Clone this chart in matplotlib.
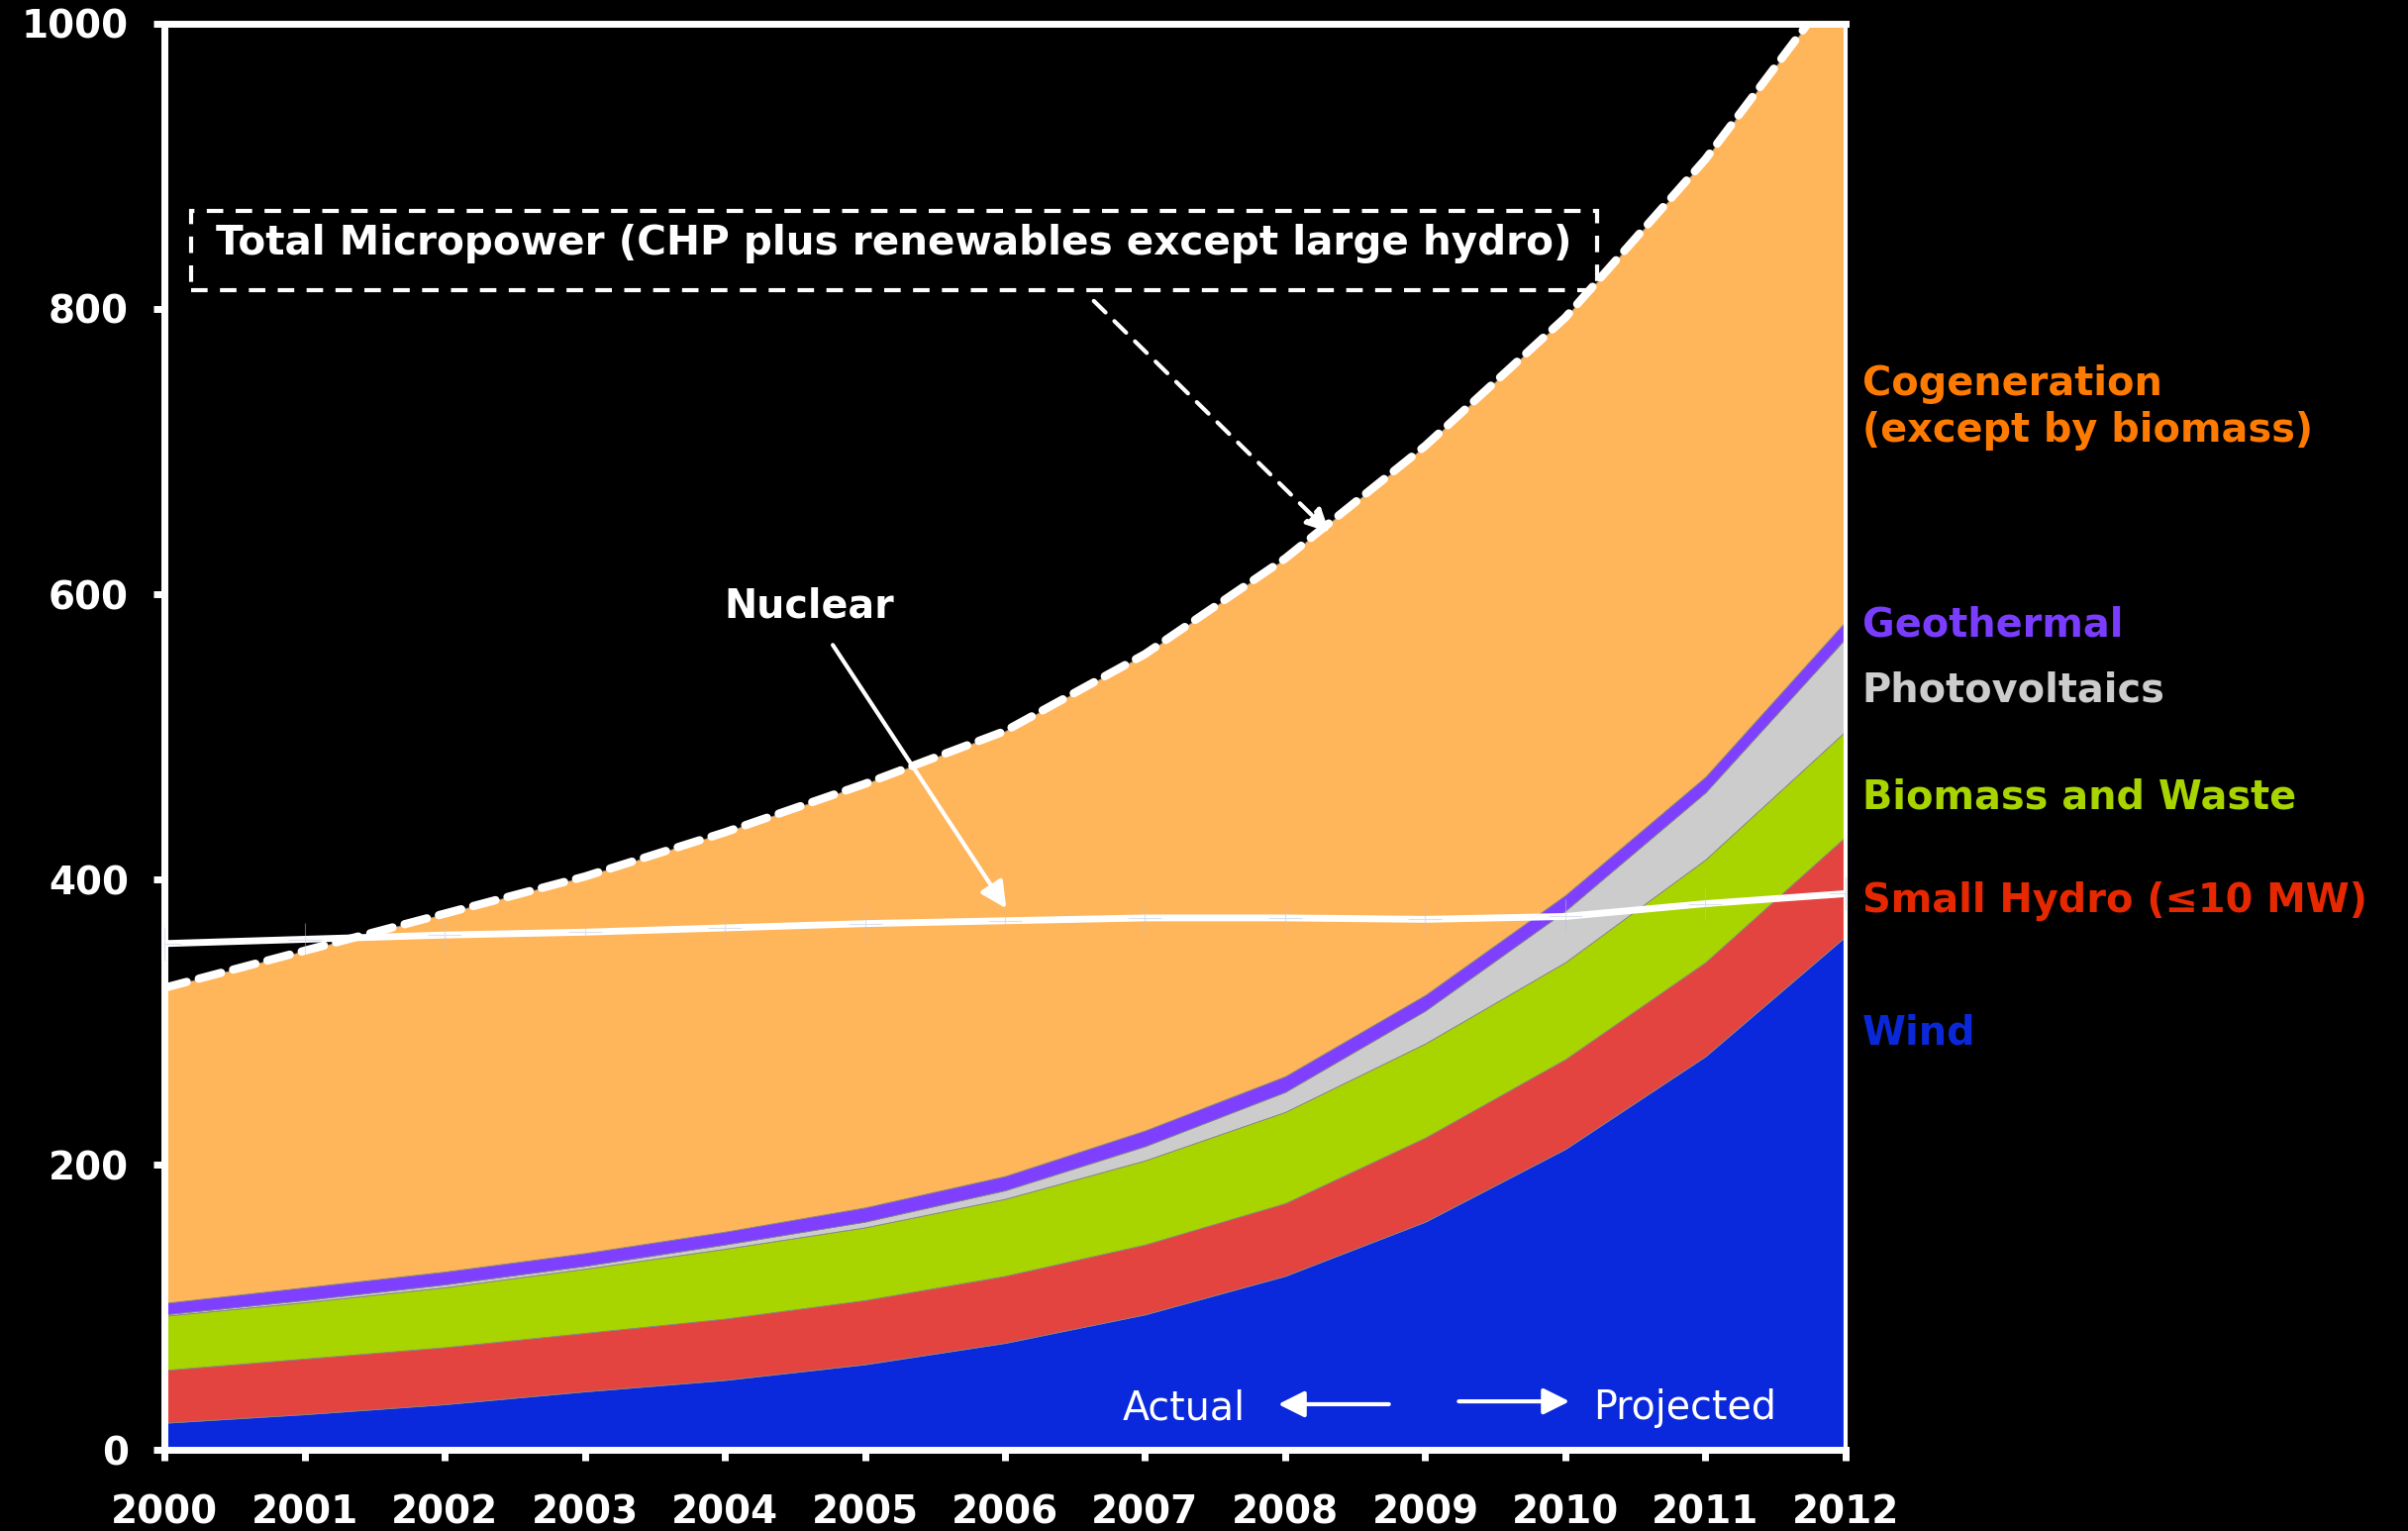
import numpy as np
import matplotlib
matplotlib.use('Agg')
import matplotlib.pyplot as plt
from matplotlib.patches import Rectangle

# capacidad instalada por fuente (GW), 2000-2010 real, 2011-2012 proyectado
years = np.arange(2000, 2013)
wind = [19, 25, 32, 41, 49, 60, 75, 95, 122, 160, 211, 276, 360]
small_hydro = [37, 39, 40, 41, 43, 45, 47, 49, 51, 59, 63, 66, 70]
biomass = [38, 39.5, 42, 45, 49, 51, 54, 59, 64, 66, 68, 72, 74]
pv = [1, 1.5, 2, 2, 3, 4, 6, 10, 14, 23, 36, 47, 65]
geothermal = [8, 9, 9, 9, 9, 10, 10, 11, 11, 11, 11, 11, 12]
cogen = [221, 236, 251, 264, 280, 297, 312, 334, 363, 385, 405, 433, 454]
nuclear = [355, 358, 361, 363, 366, 369, 371, 373, 373, 372, 374, 383, 390]

series = [wind, small_hydro, biomass, pv, geothermal, cogen]
fills = ['#0A28DC', '#E4443F', '#A8D400', '#CCCCCC', '#7F3FFF', '#FFB55A']
names = ['Wind', 'Small Hydro (\u226410 MW)', 'Biomass and Waste',
         'Photovoltaics', 'Geothermal', 'Cogeneration\n(except by biomass)']
name_colors = ['#0A28D8', '#E62800', '#A8D400', '#CCCCCC', '#7A3CFF', '#FF7A00']
name_y = [292, 385, 457, 532, 578, 731]

plt.rcParams['font.family'] = 'DejaVu Sans'
plt.rcParams['font.weight'] = 'bold'

fig = plt.figure(figsize=(24.32, 15.46), dpi=100, facecolor='black')
ax = fig.add_axes([0.0683, 0.053, 0.6981, 0.9315])
ax.set_facecolor('black')

ax.stackplot(years, *series, colors=fills, lw=0.6, edgecolor='#888888')
total = np.sum(series, axis=0)
ax.plot(years, total, color='white', lw=6, ls=(0, (2.8, 1.5)),
        dash_capstyle='round', zorder=3)

ax.plot(years, nuclear, color='white', lw=5, zorder=3)
ax.plot(years, nuclear, ls='none', marker='+', ms=24, mew=0.8,
        color='#b8c4e0', alpha=0.5, zorder=3)

ax.set_xlim(2000, 2012)
ax.set_ylim(0, 1000)
ax.set_xticks(years)
ax.set_yticks(range(0, 1001, 200))
ax.tick_params(colors='white', width=5, length=8, labelsize=28)
ax.tick_params(axis='x', pad=24)
ax.tick_params(axis='y', pad=18)
for s in ax.spines.values():
    s.set_color('white')
    s.set_linewidth(5)
ax.spines['right'].set_linewidth(3)

# etiquetas de cada capa a la derecha
for nm, c, yy in zip(names, name_colors, name_y):
    ax.text(2012.12, yy, nm, color=c, fontsize=28.7, va='center', ha='left',
            linespacing=1.22)

# recuadro del total
ax.add_patch(Rectangle((2000.19, 813), 10.04, 56, fill=False, ec='white',
                       lw=3, ls=(0, (4, 3)), zorder=4))
ax.text(2005.21, 846, 'Total Micropower (CHP plus renewables except large hydro)',
        color='white', fontsize=29.2, ha='center', va='center', zorder=4)
ax.annotate('', xy=(2008.33, 642), xytext=(2006.62, 807),
            arrowprops=dict(arrowstyle='-|>', color='white', lw=3,
                            ls=(0, (4, 3)), mutation_scale=35), zorder=4)

ax.annotate('', xy=(2006.02, 378), xytext=(2004.76, 566),
            arrowprops=dict(arrowstyle='-|>', color='white', lw=3,
                            mutation_scale=40), zorder=4)
ax.text(2004.6, 591, 'Nuclear', color='white', fontsize=28.5,
        ha='center', va='center')

# real vs proyectado
ax.text(2006.84, 29, 'Actual', color='white', fontsize=28.5, fontweight='normal',
        ha='left', va='center')
ax.annotate('', xy=(2007.93, 32), xytext=(2008.76, 32),
            arrowprops=dict(arrowstyle='-|>', color='white', lw=3,
                            mutation_scale=40))
ax.annotate('', xy=(2010.05, 34), xytext=(2009.22, 34),
            arrowprops=dict(arrowstyle='-|>', color='white', lw=3,
                            mutation_scale=40))
ax.text(2010.2, 29, 'Projected', color='white', fontsize=28.5, fontweight='normal',
        ha='left', va='center')

plt.savefig('out.png', dpi=100, facecolor='black')
